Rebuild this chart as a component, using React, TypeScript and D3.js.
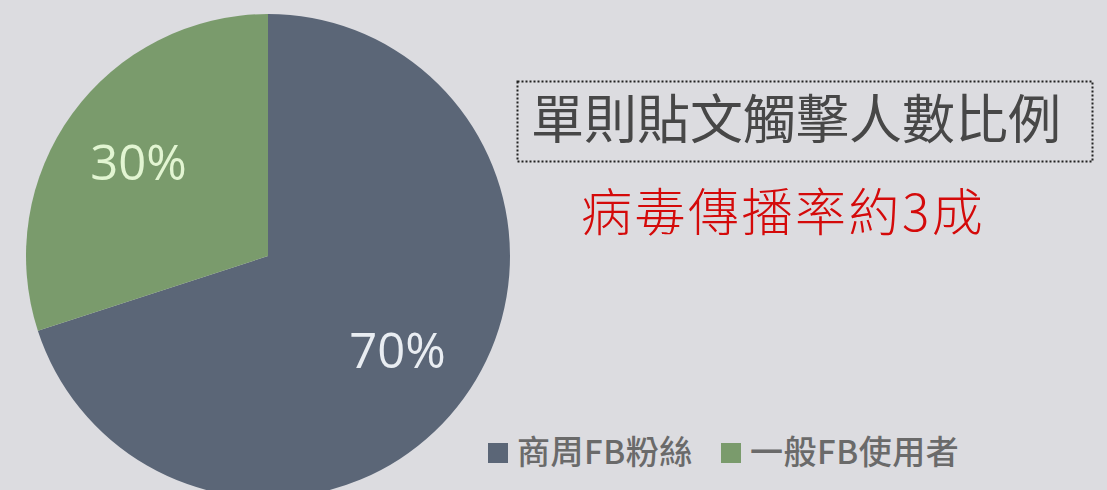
import { useEffect, useRef } from 'react';
import * as d3 from 'd3';

// Slice data (clockwise from 12 o'clock)
const SLICE_LABELS = ['商周FB粉絲', '一般FB使用者'];
const SLICE_VALUES = [70, 30];
const SLICE_COLORS = ['#5b6677', '#7a9b6c'];
const PCT_COLORS = ['#e9edf2', '#e2f5d2'];

const TITLE = '單則貼文觸擊人數比例';
const SUBTITLE = '病毒傳播率約3成';

const W = 1107;
const H = 490;

export default function App() {
  const svgRef = useRef<SVGSVGElement>(null);

  useEffect(() => {
    const svg = d3.select(svgRef.current);
    svg.selectAll('*').remove();

    svg.append('rect').attr('width', W).attr('height', H).attr('fill', '#dcdce0');

    // pie
    const cx = 268;
    const cy = 256;
    const r = 242;
    const data = SLICE_VALUES.map((v, i) => ({ v, i }));
    const pie = d3.pie<{ v: number; i: number }>().sort(null).value(d => d.v);
    const arc = d3.arc<d3.PieArcDatum<{ v: number; i: number }>>().innerRadius(0).outerRadius(r);
    const labelArc = d3.arc<d3.PieArcDatum<{ v: number; i: number }>>().innerRadius(160).outerRadius(160);
    const total = d3.sum(SLICE_VALUES);

    const g = svg.append('g').attr('transform', `translate(${cx},${cy})`);
    const arcs = pie(data);
    g.selectAll('path')
      .data(arcs)
      .join('path')
      .attr('d', arc)
      .attr('fill', d => SLICE_COLORS[d.data.i]);

    g.selectAll('text')
      .data(arcs)
      .join('text')
      .attr('transform', d => `translate(${labelArc.centroid(d)})`)
      .attr('text-anchor', 'middle')
      .attr('dy', '0.36em')
      .attr('font-family', '"Open Sans", sans-serif')
      .attr('font-weight', 400)
      .attr('font-size', 49)
      .attr('fill', d => PCT_COLORS[d.data.i])
      .text(d => `${Math.round((d.data.v / total) * 100)}%`);

    // title box
    svg.append('rect')
      .attr('x', 517.5).attr('y', 81.5)
      .attr('width', 575).attr('height', 80)
      .attr('fill', 'none')
      .attr('stroke', '#222')
      .attr('stroke-width', 2)
      .attr('stroke-dasharray', '2 2');

    svg.append('text')
      .attr('x', 531).attr('y', 139)
      .attr('font-family', '"Noto Sans CJK TC", sans-serif')
      .attr('font-weight', 400)
      .attr('font-size', 53)
      .attr('fill', '#474747')
      .text(TITLE);

    svg.append('text')
      .attr('x', 581).attr('y', 231)
      .attr('font-family', '"Noto Sans CJK TC", sans-serif')
      .attr('font-weight', 300)
      .attr('font-size', 51)
      .attr('letter-spacing', 2.5)
      .attr('fill', '#d40a0a')
      .text(SUBTITLE);

    // legend
    const legendX = [488, 721];
    const lg = svg.append('g');
    SLICE_LABELS.forEach((lab, i) => {
      lg.append('rect')
        .attr('x', legendX[i]).attr('y', 443)
        .attr('width', 20).attr('height', 20)
        .attr('fill', SLICE_COLORS[i]);
      lg.append('text')
        .attr('x', legendX[i] + 29).attr('y', 464)
        .attr('font-family', '"Noto Sans CJK TC", sans-serif')
        .attr('font-weight', 500)
        .attr('font-size', 33)
        .attr('letter-spacing', 0.5)
        .attr('fill', '#6a6a6a')
        .text(lab);
    });
  }, []);

  return (
    <svg
      ref={svgRef}
      width={W}
      height={H}
      style={{ position: 'absolute', left: 0, top: 0, display: 'block' }}
    />
  );
}
